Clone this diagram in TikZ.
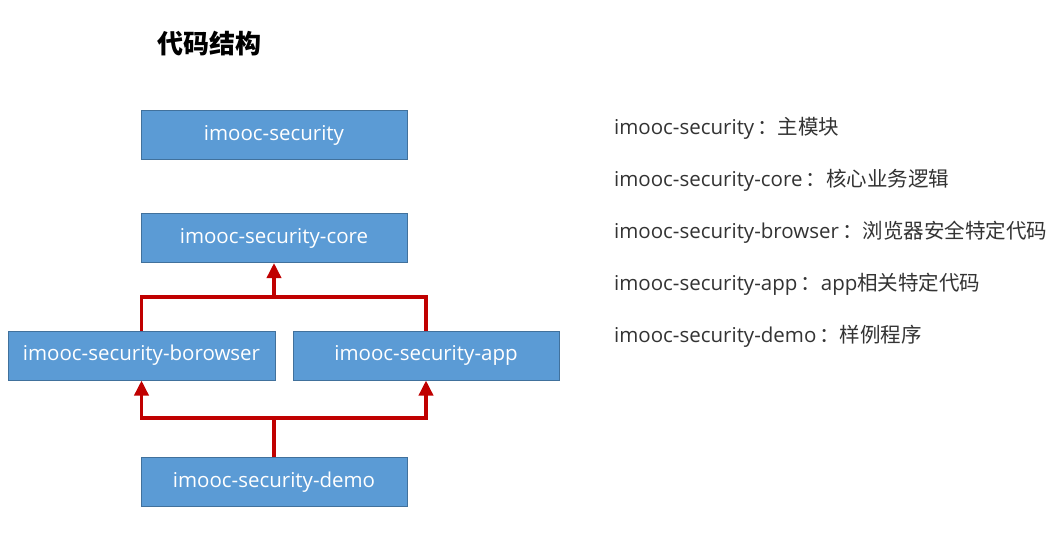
\documentclass[tikz,border=0pt]{standalone}
\usepackage{fontspec}
\setmainfont{Open Sans}
\newfontfamily\cjk{Noto Sans CJK SC}
\usetikzlibrary{positioning,arrows.meta}
\definecolor{boxblue}{RGB}{91,155,213}
\definecolor{boxline}{RGB}{65,113,156}
\definecolor{linkred}{RGB}{192,0,0}
\newcommand{\sepcolon}{\hspace{3pt}{\cjk ：}}

\begin{document}
\begin{tikzpicture}[
		x=1pt, y=-1pt
		,box/.style={draw=boxline, line width=1pt, fill=boxblue, text=white, minimum width=266pt, minimum height=49pt, inner sep=0pt, font=\fontsize{20.5}{24}\selectfont}
		,desc/.style={anchor=west, inner sep=0pt, text=black!80, font=\fontsize{20.5}{24}\selectfont}
		,link/.style={draw=linkred, line width=3.5pt}
		,uses/.style={link, -{Triangle[length=15pt, width=14pt]}}
	]
		\useasboundingbox[fill=white] (0,0) rectangle (1047,533);

		\node[anchor=west, inner sep=0pt, font=\cjk\bfseries\fontsize{26}{30}\selectfont] (title) at (157,44) {代码结构};

		\node[box] (sec) at (274,135) {imooc-security};
		\node[box, below=53pt of sec] (core) {imooc-security-core};
		\node[box, minimum width=267pt] (brw) at (141.5,355.5) {imooc-security-borowser};
		\node[box, right=17pt of brw] (app) {imooc-security-app};
		\node[box] (demo) at (274,482) {imooc-security-demo};

		\coordinate (join) at (274,297);
		\coordinate (split) at (274,418);

		\draw[link] (brw.north) |- (join) -| (app.north);
		\draw[uses] (join) -- (core.south);
		\draw[link] (demo.north) -- (split);
		\draw[uses] (split) -| (brw.south);
		\draw[uses] (split) -| (app.south);

		\node[desc] (dsec) at (614,128) {imooc-security\sepcolon{\cjk 主模块}};
		\node[desc] (dcore) at (614,180) {imooc-security-core\sepcolon{\cjk 核心业务逻辑}};
		\node[desc] (dbrw) at (614,232) {imooc-security-browser\sepcolon{\cjk 浏览器安全特定代码}};
		\node[desc] (dapp) at (614,284) {imooc-security-app\sepcolon app{\cjk 相关特定代码}};
		\node[desc] (ddemo) at (614,336) {imooc-security-demo\sepcolon{\cjk 样例程序}};
	\end{tikzpicture}
\end{document}
